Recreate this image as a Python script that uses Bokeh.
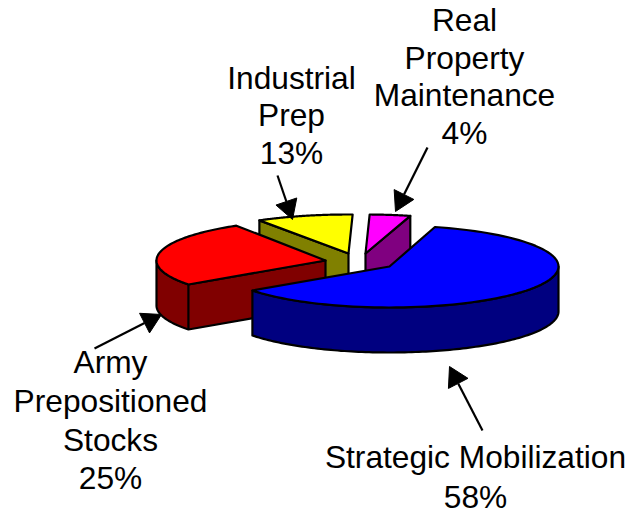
import numpy as np
from bokeh.plotting import figure
from bokeh.models import Range1d
from bokeh.embed import file_html
from bokeh.resources import INLINE
from bokeh.core.properties import value

# Pie data
names = ["Strategic Mobilization", "Army Prepositioned Stocks", "Industrial Prep", "Real Property Maintenance"]
shares = [58, 25, 13, 4]
# perspective foreshortening of each drawn sector
foreshorten = [1.047, 1.044, 0.71, 0.97]
top_colors = ["#0000ff", "#ff0000", "#ffff00", "#ff00ff"]
side_colors = ["#000080", "#800000", "#808000", "#800080"]
centers_x = [389, 325, 348, 365]
centers_y = [266, 260, 253, 253]
radius_x = [169, 169, 169, 169]
radius_y = [41, 41, 39, 39]
first_angle = 74.4
depth = 45

# Labels
label_lines = [
    (["Strategic Mobilization", "58%"], 475, [456, 496]),
    (["Army", "Prepositioned", "Stocks", "25%"], 110, [361, 400, 439, 477]),
    (["Industrial", "Prep", "13%"], 291, [77, 114, 152]),
    (["Real", "Property", "Maintenance", "4%"], 464, [19, 57, 94, 132]),
]
# Callout arrows: tail x, tail y, tip x, tip y
arrows = [
    (482, 430, 449, 366),
    (94, 348, 161, 314),
    (277, 175, 292, 219),
    (427, 147, 395, 211),
]
FONT = "Liberation Sans"
FONT_SIZE = "31.7px"
LW = 2.2

p = figure(width=636, height=514, x_range=Range1d(0, 636), y_range=Range1d(514, 0),
           output_backend="svg", toolbar_location=None, min_border=0)
p.axis.visible = False
p.grid.visible = False
p.outline_line_color = None


def arc(i, a0, a1, n=90):
    t = np.radians(np.linspace(a0, a1, n))
    return centers_x[i] + radius_x[i] * np.cos(t), centers_y[i] - radius_y[i] * np.sin(t)


# sector angles, clockwise from the first angle
angles = []
a = first_angle
for s, f in zip(shares, foreshorten):
    angles.append((a, a - s * 3.6 * f))
    a -= s * 3.6 * f


def draw_slice(i):
    a0, a1 = angles[i]
    x, y = arc(i, a0, a1)
    cx, cy = centers_x[i], centers_y[i]
    ow = dict(fill_color=side_colors[i], line_color="black", line_width=LW, line_join="round")
    if i == 0:  # outer wall seen in front
        xo, yo = arc(i, a1, 0, 120)
        p.patch(np.r_[xo, xo[::-1]], np.r_[yo, yo[::-1] + depth], **ow)
    elif i == 1:  # outer wall + cut face
        xo, yo = arc(i, -180, a0, 30)
        xs = np.r_[xo, cx, cx, xo[::-1]]
        ys = np.r_[yo, cy, cy + depth, yo[::-1] + depth]
        p.patch(xs, ys, **ow)
        p.line([xo[-1], xo[-1]], [yo[-1], yo[-1] + depth], line_color="black", line_width=LW)
    elif i == 2:  # cut face on the left side
        p.patch([x[0], cx, cx, x[0]], [y[0], cy, cy + depth, y[0] + depth], **ow)
    else:  # cut face on the right side
        p.patch([cx, x[-1], x[-1], cx], [cy, y[-1], y[-1] + depth, cy + depth], **ow)
    p.patch(np.r_[cx, x], np.r_[cy, y], fill_color=top_colors[i], line_color="black",
            line_width=LW, line_join="round")


for i in [2, 3, 1, 0]:
    draw_slice(i)

# arrows
for x0, y0, x1, y1 in arrows:
    d = np.array([x1 - x0, y1 - y0], float)
    u = d / np.hypot(*d)
    n = np.array([-u[1], u[0]])
    head_len, head_w = 19, 11
    b = np.array([x1, y1]) - u * head_len
    p.line([x0, b[0]], [y0, b[1]], line_color="black", line_width=LW)
    p.patch([x1, b[0] + n[0] * head_w, b[0] - n[0] * head_w],
            [y1, b[1] + n[1] * head_w, b[1] - n[1] * head_w], fill_color="black", line_color="black", line_width=1)

# labels
for lines, xc, ys in label_lines:
    p.text([xc] * len(lines), ys, text=lines, text_font=value(FONT), text_font_size=FONT_SIZE,
           text_align="center", text_baseline="middle", text_color="black")

open("out.html", "w").write(file_html(p, INLINE))
